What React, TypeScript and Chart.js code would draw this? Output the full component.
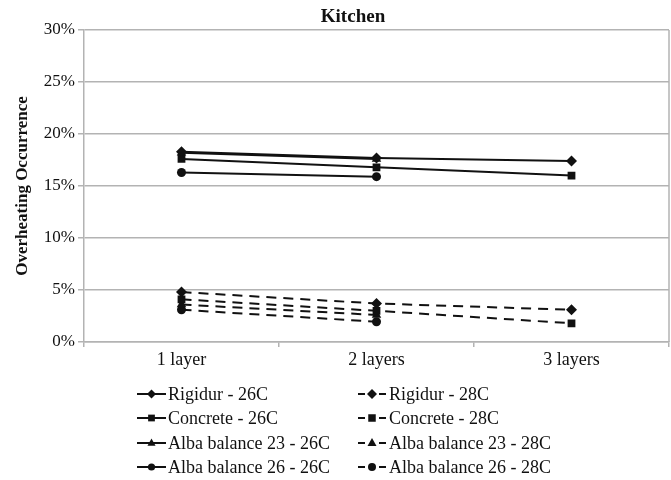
import React, { useEffect, useRef } from 'react';
import { Chart, registerables } from 'chart.js';

Chart.register(...registerables);

const chartTitle = 'Kitchen';
const yAxisTitle = 'Overheating Occurrence';
const categories = ['1 layer', '2 layers', '3 layers'];
const yMin = 0;
const yMax = 30;
const yStep = 5;

const rigidur26 = [18.3, 17.7, 17.4];
const concrete26 = [17.6, 16.8, 16.0];
const alba23_26 = [18.2, 17.6, null];
const alba26_26 = [16.3, 15.9, null];
const rigidur28 = [4.8, 3.7, 3.1];
const concrete28 = [4.1, 3.0, 1.8];
const alba23_28 = [3.6, 2.6, null];
const alba26_28 = [3.1, 1.95, null];

const seriesLabels = [
  'Rigidur - 26C',
  'Concrete - 26C',
  'Alba balance 23 - 26C',
  'Alba balance 26 - 26C',
  'Rigidur - 28C',
  'Concrete - 28C',
  'Alba balance 23 - 28C',
  'Alba balance 26 - 28C',
];
const seriesData = [rigidur26, concrete26, alba23_26, alba26_26, rigidur28, concrete28, alba23_28, alba26_28];
const markerStyles = ['rectRot', 'rect', 'triangle', 'circle', 'rectRot', 'rect', 'triangle', 'circle'];
const markerRadii = [5.5, 5.5, 5.5, 4.5, 5.5, 5.5, 5.5, 4.5];
const dashedFlags = [false, false, false, false, true, true, true, true];

const SERIF = '"Liberation Serif", "Times New Roman", serif';
const INK = '#111111';
const GRID = '#b3b3b3';

function drawMarker(ctx: CanvasRenderingContext2D, style: string, x: number, y: number, r: number) {
  ctx.beginPath();
  if (style === 'rectRot') {
    ctx.moveTo(x, y - r);
    ctx.lineTo(x + r, y);
    ctx.lineTo(x, y + r);
    ctx.lineTo(x - r, y);
    ctx.closePath();
  } else if (style === 'rect') {
    const s = r * 0.75;
    ctx.rect(x - s, y - s, 2 * s, 2 * s);
  } else if (style === 'triangle') {
    ctx.moveTo(x, y - r);
    ctx.lineTo(x + r * 0.9, y + r * 0.6);
    ctx.lineTo(x - r * 0.9, y + r * 0.6);
    ctx.closePath();
  } else {
    ctx.arc(x, y, r * 0.8, 0, Math.PI * 2);
  }
  ctx.fill();
}

const decorPlugin = {
  id: 'decor',
  afterDraw(chart: any) {
    const ctx: CanvasRenderingContext2D = chart.ctx;
    const area = chart.chartArea;
    ctx.save();
    // right border of plot area
    ctx.strokeStyle = GRID;
    ctx.lineWidth = 1.5;
    ctx.beginPath();
    ctx.moveTo(area.right, area.top);
    ctx.lineTo(area.right, area.bottom);
    ctx.stroke();

    // title
    ctx.fillStyle = INK;
    ctx.font = `bold 19px ${SERIF}`;
    ctx.textAlign = 'center';
    ctx.textBaseline = 'middle';
    ctx.fillText(chartTitle, 353, 17);

    // legend, two columns
    const colX = [137, 358];
    const rowY = [394, 418, 443, 467];
    ctx.font = `18px ${SERIF}`;
    ctx.textAlign = 'left';
    chart.data.datasets.forEach((ds: any, i: number) => {
      const col = i < 4 ? 0 : 1;
      const row = i % 4;
      const x = colX[col];
      const y = rowY[row];
      ctx.strokeStyle = INK;
      ctx.fillStyle = INK;
      ctx.lineWidth = 2;
      if (!dashedFlags[i]) {
        ctx.beginPath();
        ctx.moveTo(x, y);
        ctx.lineTo(x + 29, y);
        ctx.stroke();
        drawMarker(ctx, markerStyles[i], x + 14.5, y, 4.5);
      } else {
        ctx.beginPath();
        ctx.moveTo(x, y);
        ctx.lineTo(x + 7, y);
        ctx.moveTo(x + 21, y);
        ctx.lineTo(x + 28, y);
        ctx.stroke();
        drawMarker(ctx, markerStyles[i], x + 14, y, 5);
      }
      ctx.fillText(ds.label, x + 31, y + 1);
    });
    ctx.restore();
  },
};

export default function App() {
  const canvasRef = useRef<HTMLCanvasElement | null>(null);

  useEffect(() => {
    document.body.style.margin = '0';
    const canvas = canvasRef.current;
    if (!canvas) return;
    const datasets = seriesLabels.map((label, i) => ({
      label,
      data: seriesData[i],
      borderColor: INK,
      backgroundColor: INK,
      borderWidth: 2,
      borderDash: dashedFlags[i] ? [10, 7] : [],
      pointStyle: markerStyles[i],
      pointRadius: markerRadii[i],
      pointBackgroundColor: INK,
      pointBorderColor: INK,
      pointBorderWidth: 0,
      fill: false,
      tension: 0,
    }));
    const chart = new Chart(canvas, {
      type: 'line',
      data: { labels: categories, datasets },
      plugins: [decorPlugin],
      options: {
        responsive: false,
        animation: false,
        devicePixelRatio: 1,
        layout: { autoPadding: false, padding: { top: 30, right: 2, left: 0, bottom: 0 } },
        plugins: {
          legend: { display: false },
          title: { display: false },
          tooltip: { enabled: false },
        },
        scales: {
          x: {
            type: 'category',
            offset: true,
            grid: {
              display: true,
              drawOnChartArea: false,
              drawTicks: true,
              tickLength: 5,
              color: GRID,
              lineWidth: 1.5,
              offset: true,
            },
            border: { display: true, color: GRID, width: 1.5 },
            ticks: { color: INK, font: { family: SERIF, size: 18 }, padding: 2, maxRotation: 0 },
            afterFit: (s: any) => {
              s.height = 138;
            },
          },
          y: {
            min: yMin,
            max: yMax,
            ticks: {
              stepSize: yStep,
              color: INK,
              font: { family: SERIF, size: 17 },
              padding: 3,
              callback: (v: any) => `${v}%`,
            },
            grid: { color: GRID, lineWidth: 1.5, tickLength: 6 },
            border: { display: true, color: GRID, width: 1.5 },
            title: {
              display: true,
              text: yAxisTitle,
              color: INK,
              font: { family: SERIF, size: 17, weight: 'bold' },
              padding: { top: 12, bottom: 0 },
            },
            afterFit: (s: any) => {
              s.width = 84;
            },
          },
        },
      },
    } as any);
    return () => chart.destroy();
  }, []);

  return <canvas ref={canvasRef} width={671} height={480} style={{ display: 'block' }} />;
}
